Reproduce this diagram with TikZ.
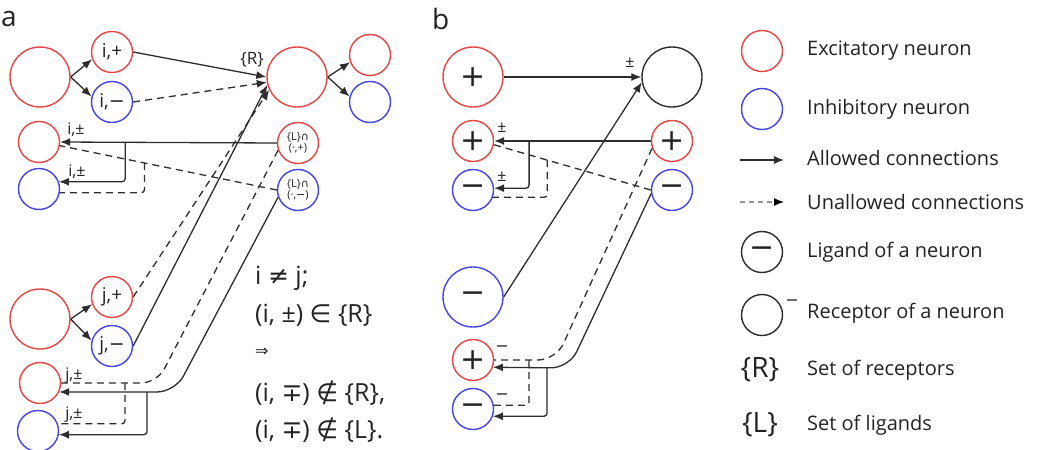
\documentclass[tikz,border=0pt]{standalone}
\usepackage{fontspec}
\setmainfont{Open Sans}
\newfontfamily\symfont{DejaVu Sans}
\usetikzlibrary{arrows.meta,calc}

\definecolor{excred}{RGB}{232,68,68}
\definecolor{inhblue}{RGB}{68,68,232}
\definecolor{wire}{RGB}{45,45,45}
\definecolor{ink}{RGB}{35,35,35}
\definecolor{faint}{RGB}{150,150,150}

\newcommand{\fs}[1]{\fontsize{#1}{#1}\selectfont}
\newcommand{\mn}{{\symfont −}}

\tikzset{
  neuron/.style={circle, line width=1.4pt, inner sep=0pt, text=ink},
  exc/.style={neuron, draw=excred},
  inh/.style={neuron, draw=inhblue},
  plain/.style={neuron, draw=wire},
  big/.style={minimum size=60pt},
  small/.style={minimum size=41pt},
  conn/.style={draw=wire, line width=1.3pt, -{Latex[length=10pt,width=8pt]}},
  noconn/.style={draw=wire, line width=1.3pt, dash pattern=on 7pt off 5pt},
  noconnarr/.style={noconn, -{Latex[length=10pt,width=8pt]}},
  lbl/.style={text=ink, inner sep=0pt, font=\fs{16}},
  legtext/.style={anchor=west, text=ink, inner sep=0pt, font=\fs{20}},
  rule/.style={anchor=west, text=ink, inner sep=0pt, font=\fs{25}},
}

\begin{document}
\begin{tikzpicture}[x=1pt,y=-1pt]
\useasboundingbox (0,0) rectangle (1042,450);

% panel a
\node[text=ink, font=\fs{28}, anchor=west, inner sep=0pt] (la) at (1,19) {a};

\node[exc, big] (A) at (40,77) {};
\node[exc, small, font=\fs{19}] (ip) at (112,52) {i,+};
\node[inh, small, font=\fs{19}] (im) at (112,102) {i,\mn};
\node[exc, big] (R) at (297,77) {};
\node[exc, small] (Rp) at (370,55) {};
\node[inh, small] (Rm) at (370,102) {};
\node[exc, small] (ie) at (39,142) {};
\node[inh, small] (ii) at (39,189) {};
\node[exc, small, align=center, font=\fs{11}] (Lp) at (298,143) {\{L\}{\symfont∩}\\(·,+)};
\node[inh, small, align=center, font=\fs{11}] (Lm) at (298,190) {\{L\}{\symfont∩}\\(·,\mn)};
\node[exc, big] (B) at (40,319) {};
\node[exc, small, font=\fs{19}] (jp) at (112,297) {j,+};
\node[inh, small, font=\fs{19}] (jm) at (112,346) {j,\mn};
\node[exc, small] (je) at (40,383) {};
\node[inh, small] (jj) at (38,431) {};

\node[lbl, font=\fs{17}] (tR) at (252,60) {\{R\}};
\node[lbl] (ti1) at (76,130) {i,±};
\node[lbl] (ti2) at (77,172) {i,±};
\node[lbl] (tj1) at (74,376) {j,±};
\node[lbl] (tj2) at (74,415) {j,±};

\draw[conn] (A.east) -- (ip.200);
\draw[conn] (A.east) -- (im.165);
\draw[conn] (R.east) -- (Rp.200);
\draw[conn] (R.east) -- (Rm.165);
\draw[conn] (B.east) -- (jp.200);
\draw[conn] (B.east) -- (jm.165);

\draw[conn] (ip.east) -- (R.west);
\draw[noconnarr] (im.east) -- (R.190);
\draw[noconnarr] (jp.east) -- (R.205);
\draw[conn] (jm.east) -- (R.195);

% feedback onto i
\draw[conn] (Lp.west) -- (ie.east) coordinate[pos=0.7] (sa);
\draw[conn, rounded corners=3pt] (sa) |- (ii.20);
\draw[noconn] (Lm.west) -- (ie.-10) coordinate[pos=0.61] (da);
\draw[noconn, rounded corners=3pt] (da) |- (ii.-10);

% feedback onto j
\coordinate (cC) at (157,383);
\coordinate (cD) at (175,392);
\draw[noconn, rounded corners=16pt] (Lp.200) -- (cC) -- (je.east);
\coordinate (dj) at (125,383);
\draw[noconn, rounded corners=3pt] (dj) |- (jj.20);
\draw[conn, rounded corners=18pt] (Lm.200) -- (cD) -- (je.-25);
\coordinate (sj) at (147,392);
\draw[conn, rounded corners=3pt] (sj) |- (jj.-10);

% rule
\node[rule] (r1) at (255,278) {i {\symfont≠} j;};
\node[rule] (r2) at (255,315) {(i, ±) {\symfont∈} \{R\}};
\node[rule, font=\fs{16}] (r3) at (255,352) {{\symfont⇒}};
\node[rule] (r4) at (255,393) {(i, {\symfont∓}) {\symfont∉} \{R\},};
\node[rule] (r5) at (255,430) {(i, {\symfont∓}) {\symfont∉} \{L\}.};

% panel b
\node[text=ink, font=\fs{28}, anchor=west, inner sep=0pt] (lb) at (432,19) {b};

\node[exc, big, font=\fs{30}] (bp) at (473,77) {\symfont +};
\node[plain, big] (rec) at (672,77) {};
\node[exc, small, font=\fs{30}] (pe) at (473,141) {\symfont +};
\node[inh, small, font=\fs{30}] (pi) at (473,190) {\mn};
\node[exc, small, font=\fs{30}] (qe) at (672,141) {\symfont +};
\node[inh, small, font=\fs{30}] (qi) at (672,190) {\mn};
\node[inh, big, font=\fs{30}] (bm) at (473,297) {\mn};
\node[exc, small, font=\fs{30}] (ue) at (473,360) {\symfont +};
\node[inh, small, font=\fs{30}] (ui) at (473,409) {\mn};

\node[lbl] (tb0) at (630,63) {±};
\node[lbl] (tb1) at (502,128) {±};
\node[lbl] (tb2) at (502,177) {±};
\node[lbl] (tb3) at (502,349) {\mn};
\node[lbl] (tb4) at (502,397) {\mn};

\draw[conn] (bp.east) -- (rec.west);
\draw[conn] (bm.east) -- (rec.190);

\draw[conn] (qe.west) -- (pe.east) coordinate[pos=0.777] (sb);
\draw[conn, rounded corners=3pt] (sb) |- (pi.5);
\draw[noconn] (qi.west) -- (pe.-10) coordinate[pos=0.66] (db);
\draw[noconn, rounded corners=3pt] (db) |- (pi.-20);

\coordinate (cE) at (556,360);
\coordinate (cF) at (569,368);
\draw[noconn, rounded corners=18pt] (qe.200) -- (cE) -- (ue.east);
\coordinate (du) at (529,360);
\draw[noconn, rounded corners=3pt] (du) |- (ui.10);
\draw[conn, rounded corners=18pt] (qi.190) -- (cF) -- (ue.-20);
\coordinate (su) at (547,368);
\draw[conn, rounded corners=3pt] (su) |- (ui.-20);

% legend
\node[exc, small] (k1) at (762,51) {};
\node[legtext] (k1t) at (807,51) {Excitatory neuron};
\node[inh, small] (k2) at (762,109) {};
\node[legtext] (k2t) at (807,109) {Inhibitory neuron};
\coordinate (k3a) at (740,160);
\coordinate (k3b) at (784,160);
\draw[conn] (k3a) -- (k3b);
\node[legtext] (k3t) at (807,158) {Allowed connections};
\coordinate (k4a) at (740,202);
\coordinate (k4b) at (784,202);
\draw[draw=faint, line width=1.2pt, dash pattern=on 5pt off 4pt, -{Latex[length=10pt,width=8pt,color=black]}] (k4a) -- (k4b);
\node[legtext] (k4t) at (807,202) {Unallowed connections};
\node[plain, small, font=\fs{30}] (k5) at (762,252) {\mn};
\node[legtext] (k5t) at (807,252) {Ligand of a neuron};
\node[plain, small] (k6) at (762,315) {};
\node[lbl] (k6m) at (792,303) {\mn};
\node[legtext] (k6t) at (807,313) {Receptor of a neuron};
\node[text=ink, inner sep=0pt, font=\fs{28}] (k7) at (760,370) {\{R\}};
\node[legtext] (k7t) at (807,370) {Set of receptors};
\node[text=ink, inner sep=0pt, font=\fs{28}] (k8) at (760,425) {\{L\}};
\node[legtext] (k8t) at (807,425) {Set of ligands};
\end{tikzpicture}
\end{document}
